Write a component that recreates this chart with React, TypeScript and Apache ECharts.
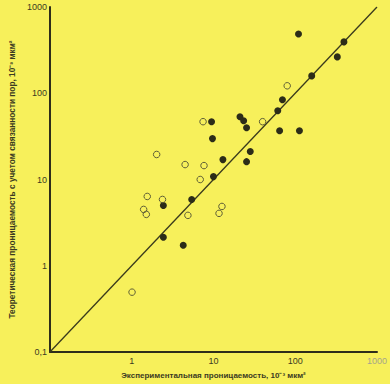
import React, { useEffect, useRef } from "react";
import * as echarts from "echarts";

const filledPoints: [number, number][] = [
  [2.44, 5.0], [2.44, 2.14], [4.27, 1.73], [5.42, 5.87], [9.48, 46.8],
  [9.73, 29.8], [10.0, 10.8], [13.05, 17.0], [21.1, 53.5], [23.4, 48.1],
  [25.4, 39.9], [25.4, 16.1], [28.2, 21.1], [61.1, 62.8], [69.8, 84.1],
  [64.4, 36.8], [112.7, 36.8], [109.7, 487], [159, 159], [327, 264], [394, 394],
];

const openPoints: [number, number][] = [
  [1.01, 0.494], [1.4, 4.5], [1.51, 3.94], [1.55, 6.36], [2.02, 19.5],
  [2.38, 5.87], [4.5, 14.9], [4.87, 3.84], [6.89, 10.0], [7.46, 46.8],
  [7.66, 14.5], [11.7, 4.05], [12.7, 4.87], [39.9, 46.8], [79.8, 122],
];

const diagonal: [number, number][] = [[0.1, 0.1], [1000, 1000]];

const xTitle = "Экспериментальная проницаемость, 10⁻³ мкм²";
const yTitle = "Теоретическая проницаемость с учетом связанности пор, 10⁻³ мкм²";

export default function App() {
  const ref = useRef<HTMLDivElement>(null);
  useEffect(() => {
    if (!ref.current) return;
    const chart = echarts.init(ref.current, undefined, { renderer: "svg" });
    const font = "'Liberation Sans', Arial, sans-serif";
    const ink = "#3b3b22";
    const fmt = (v: number) => (v < 0.5 ? "0,1" : String(Math.round(v)));
    chart.setOption({
      animation: false,
      backgroundColor: "#f7f05b",
      grid: { left: 35, top: 7, width: 346, height: 346 },
      xAxis: {
        type: "log",
        logBase: 10,
        min: 0.1,
        max: 1000,
        name: xTitle,
        nameLocation: "middle",
        nameGap: 19,
        nameTextStyle: { fontFamily: font, fontSize: 8, color: ink, fontWeight: "bold" },
        axisLine: { show: true, lineStyle: { color: "#2e2e1a", width: 2 } },
        axisTick: { show: false },
        splitLine: { show: false },
        minorTick: { show: false },
        axisLabel: {
          fontFamily: font,
          fontSize: 9,
          margin: 4,
          color: (v: any) => (Number(v) > 500 ? "#a5a58a" : ink),
          formatter: (v: number) => (v < 0.5 ? "" : String(Math.round(v))),
        },
      },
      yAxis: {
        type: "log",
        logBase: 10,
        min: 0.1,
        max: 1000,
        name: yTitle,
        nameLocation: "middle",
        nameGap: 25,
        nameTextStyle: { fontFamily: font, fontSize: 8.3, color: ink, fontWeight: "bold" },
        axisLine: { show: true, lineStyle: { color: "#2e2e1a", width: 2 } },
        axisTick: { show: false },
        splitLine: { show: false },
        axisLabel: {
          fontFamily: font,
          fontSize: 9,
          margin: 3,
          color: ink,
          formatter: fmt,
        },
      },
      series: [
        {
          type: "line",
          data: diagonal,
          symbol: "none",
          lineStyle: { color: "#3a3a1c", width: 1.3 },
          z: 1,
        },
        {
          type: "scatter",
          data: filledPoints,
          symbol: "circle",
          symbolSize: 7,
          itemStyle: { color: "#2c2c18", opacity: 1 },
          z: 3,
        },
        {
          type: "scatter",
          data: openPoints,
          symbol: "circle",
          symbolSize: 6.5,
          itemStyle: { color: "transparent", borderColor: "#5e5e36", borderWidth: 1, opacity: 1 },
          z: 3,
        },
      ],
    });
    return () => chart.dispose();
  }, []);
  return (
    <div
      ref={ref}
      style={{ position: "fixed", left: 0, top: 0, width: 390, height: 384 }}
    />
  );
}
